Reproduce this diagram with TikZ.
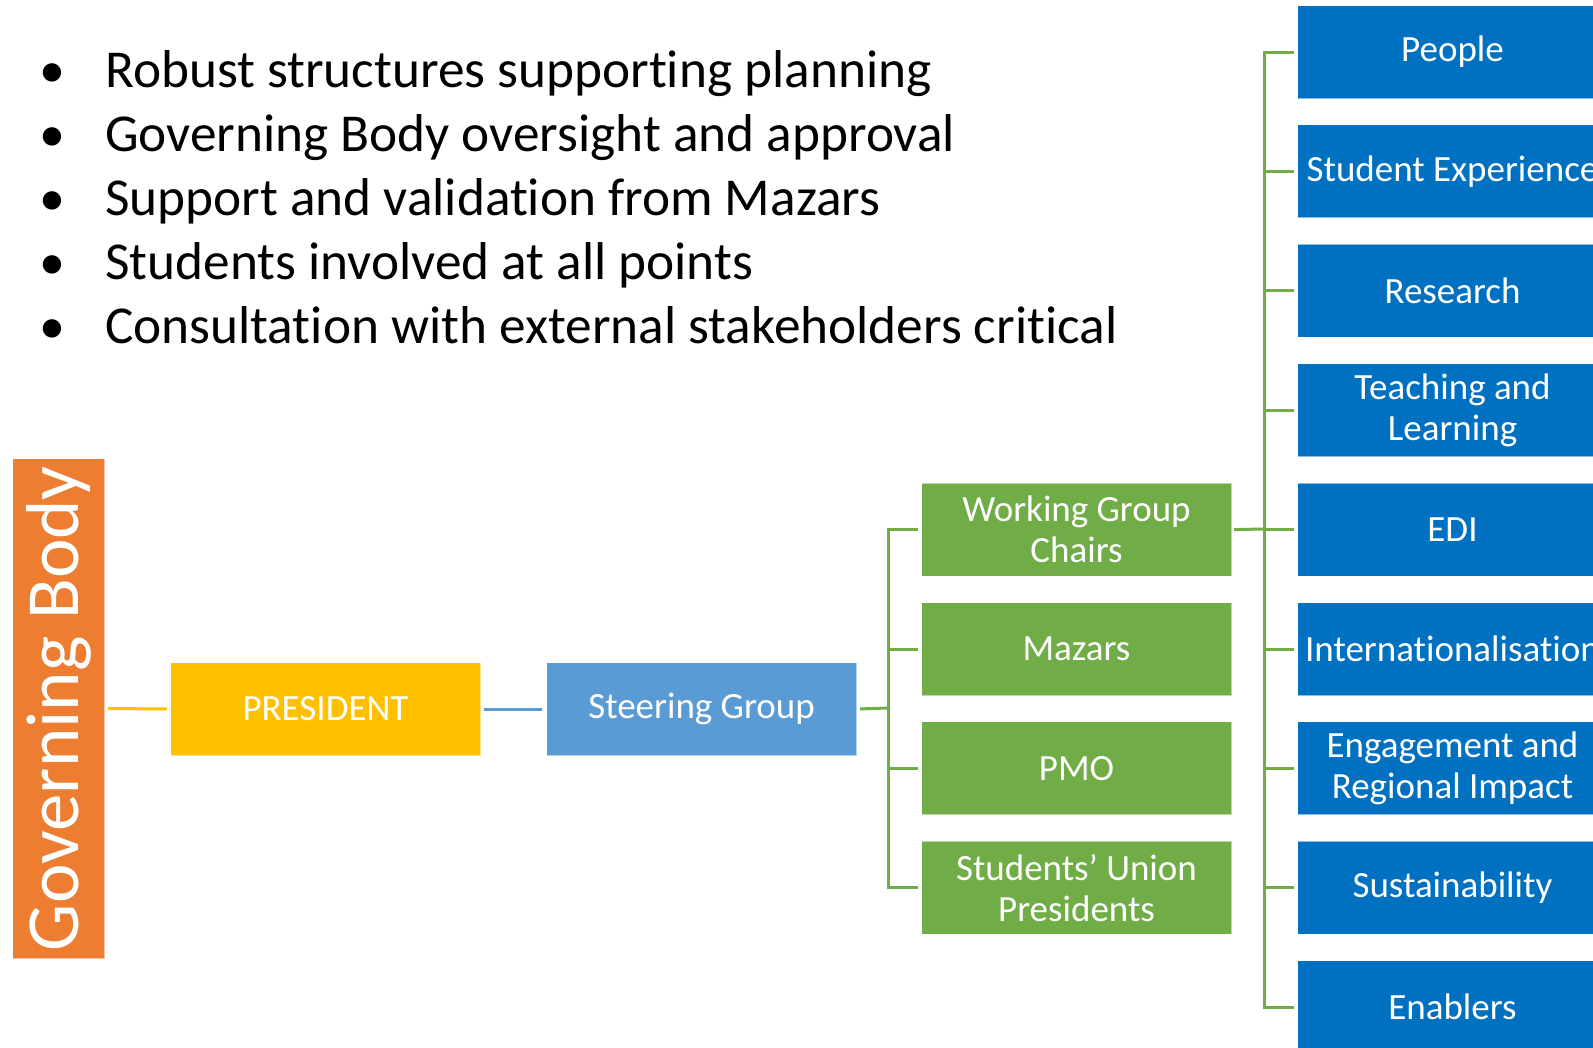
\documentclass[tikz,border=0pt]{standalone}
\usepackage{fontspec}
\setmainfont{Carlito}[Ligatures=NoCommon]
\definecolor{gbOrange}{HTML}{ED7D31}
\definecolor{presYellow}{HTML}{FFC000}
\definecolor{sgBlue}{HTML}{5B9BD5}
\definecolor{wgGreen}{HTML}{70AD47}
\definecolor{topicBlue}{HTML}{0070C0}
\tikzset{
  boxbase/.style={rectangle, inner sep=0pt, minimum width=310pt, minimum height=93pt,
    text=white, align=center, anchor=north west, draw=white, draw opacity=0.55, line width=1pt,
    font=\fontsize{37}{41}\selectfont},
  presbox/.style={boxbase, fill=presYellow},
  sgbox/.style={boxbase, fill=sgBlue},
  greenbox/.style={boxbase, fill=wgGreen},
  topicbox/.style={boxbase, fill=topicBlue},
  conn/.style={line width=3pt},
  bullettext/.style={anchor=base west, inner sep=0pt, font=\fontsize{53.3}{60}\selectfont},
  bulletdot/.style={anchor=base, inner sep=0pt, font=\fontsize{52}{60}\selectfont},
}
\begin{document}
\begin{tikzpicture}[x=1pt,y=-1pt]
\useasboundingbox (0,0) rectangle (1593,1047);
\clip (0,0) rectangle (1593,1047);
\fill[white] (0,0) rectangle (1593,1047);

% bullet list
\node[bulletdot] (bul1) at (52.7,87) {•};
\node[bulletdot] (bul2) at (52.7,151) {•};
\node[bulletdot] (bul3) at (52.7,215) {•};
\node[bulletdot] (bul4) at (52.7,279) {•};
\node[bulletdot] (bul5) at (52.7,343) {•};
\node[bullettext] (item1) at (105,87) {Robust structures supporting planning};
\node[bullettext] (item2) at (105,151) {Governing Body oversight and approval};
\node[bullettext] (item3) at (105,215) {Support and validation from Mazars};
\node[bullettext] (item4) at (105,279) {Students involved at all points};
\node[bullettext] (item5) at (105,343) {Consultation with external stakeholders critical};

% governing body
\node[rectangle, inner sep=0pt, minimum width=92pt, minimum height=500pt, anchor=north west,
  fill=gbOrange, draw=white, draw opacity=0.55, line width=1pt] (gb) at (12,458) {};
\node[rotate=90, text=white, inner sep=0pt, font=\fontsize{75}{80}\selectfont] (gbtext) at (gb.center) {Governing Body};

% president and steering group
\node[presbox] (pres) at (170,662) {PRESIDENT};
\node[sgbox] (sg) at (546,662) {Steering Group};

% green column
\node[greenbox] (g1) at (921,482.6) {Working Group\\Chairs};
\node[greenbox] (g2) at (921,602) {Mazars};
\node[greenbox] (g3) at (921,721.4) {PMO};
\node[greenbox] (g4) at (921,840.8) {Students’ Union\\Presidents};

% topic column
\node[topicbox] (t1) at (1297,5) {People};
\node[topicbox] (t2) at (1297,124.4) {Student Experience};
\node[topicbox] (t3) at (1297,243.8) {Research};
\node[topicbox] (t4) at (1297,363.2) {Teaching and\\Learning};
\node[topicbox] (t5) at (1297,482.6) {EDI};
\node[topicbox] (t6) at (1297,602) {Internationalisation};
\node[topicbox] (t7) at (1297,721.4) {Engagement and\\Regional Impact};
\node[topicbox] (t8) at (1297,840.8) {Sustainability};
\node[topicbox] (t9) at (1297,960.2) {Enablers};

% connectors
\draw[conn, presYellow, shorten <=3pt, shorten >=3pt] (gb.east) -- (pres.west);
\draw[conn, sgBlue, shorten <=3pt, shorten >=4pt] (pres.east) -- (sg.west);

\coordinate (trunkA) at (888,708);
\draw[conn, wgGreen, shorten <=3pt] (sg.east) -- (trunkA);
\foreach \g in {g1,g2,g3,g4}
  \draw[conn, wgGreen, shorten >=3pt] (trunkA) |- (\g.west);

\coordinate (trunkB) at (1264,529);
\draw[conn, wgGreen, shorten <=2pt] (g1.east) -- (trunkB);
\foreach \t in {t1,t2,t3,t4,t5,t6,t7,t8,t9}
  \draw[conn, wgGreen, shorten >=3pt] (trunkB) |- (\t.west);
\end{tikzpicture}
\end{document}
